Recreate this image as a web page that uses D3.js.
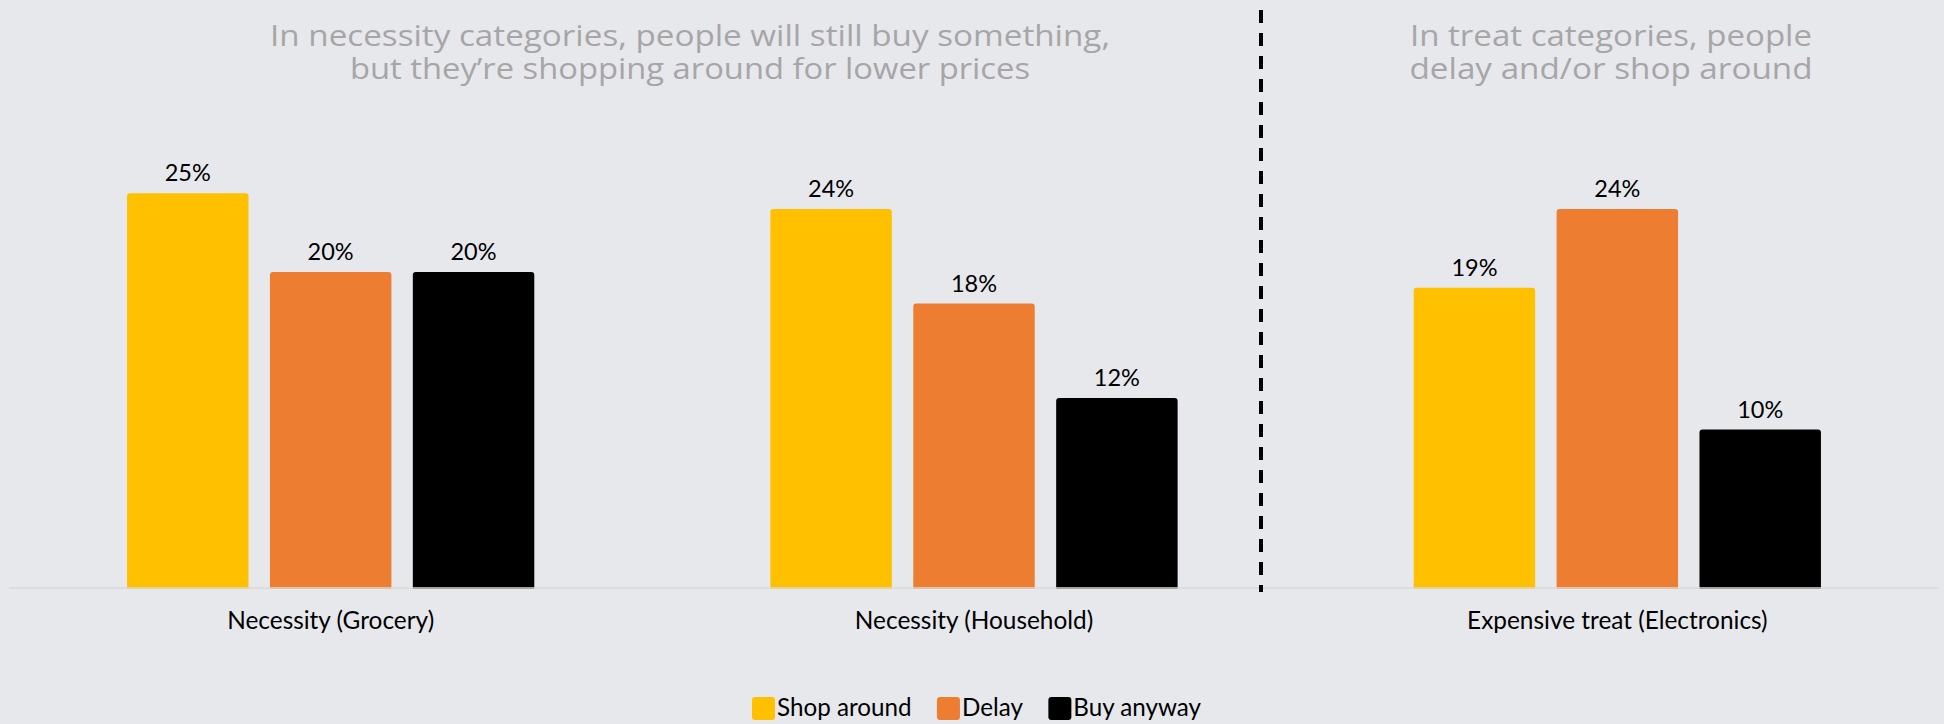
<!DOCTYPE html>
<html>
<head>
<meta charset="utf-8">
<script src="https://cdn.jsdelivr.net/npm/d3@7"></script>
<style>
  html, body { margin: 0; padding: 0; background: #e7e8ec; }
  svg { display: block; }
</style>
</head>
<body>
<svg id="chart" width="1944" height="724"></svg>
<script>
// Purchase behaviour by category type
const categories = ["Necessity (Grocery)", "Necessity (Household)", "Expensive treat (Electronics)"];
const seriesNames = ["Shop around", "Delay", "Buy anyway"];
const shopAround = [25, 24, 19];
const delay = [20, 18, 24];
const buyAnyway = [20, 12, 10];
const seriesColors = ["#ffc000", "#ed7d31", "#000000"];
const titleLeft = ["In necessity categories, people will still buy something,", "but they\u2019re shopping around for lower prices"];
const titleRight = ["In treat categories, people", "delay and/or shop around"];

const seriesValues = [shopAround, delay, buyAnyway];
const W = 1944, H = 724;
const baseY = 587;
const svg = d3.select("#chart");

svg.append("rect").attr("width", W).attr("height", H).attr("fill", "#e7e8ec");

const x0 = d3.scaleBand().domain(categories).range([9, 1939])
  .paddingInner(0.367).paddingOuter(0.1835);
const x1 = d3.scaleBand().domain(seriesNames).range([0, x0.bandwidth()])
  .paddingInner(0.15).paddingOuter(0);
const y = d3.scaleLinear().domain([0, 30]).range([baseY, baseY - 472.5]);
const color = d3.scaleOrdinal().domain(seriesNames).range(seriesColors);

const rows = categories.map((c, i) => ({
  cat: c,
  bars: seriesNames.map((s, j) => ({ series: s, value: seriesValues[j][i] }))
}));

// Bars with slightly rounded top corners
function barPath(x, yTop, w, yBot, r) {
  return `M${x},${yBot}V${yTop + r}Q${x},${yTop} ${x + r},${yTop}H${x + w - r}Q${x + w},${yTop} ${x + w},${yTop + r}V${yBot}Z`;
}

const groups = svg.append("g").selectAll("g").data(rows).join("g")
  .attr("transform", d => `translate(${x0(d.cat)},0)`);

groups.selectAll("path").data(d => d.bars).join("path")
  .attr("d", d => barPath(x1(d.series), y(d.value), x1.bandwidth(), baseY + 2, 3))
  .attr("fill", d => color(d.series));

groups.selectAll("text.val").data(d => d.bars).join("text")
  .attr("class", "val")
  .attr("x", d => x1(d.series) + x1.bandwidth() / 2)
  .attr("y", d => y(d.value) - 12)
  .attr("text-anchor", "middle")
  .attr("font-family", "Lato, 'Open Sans', sans-serif")
  .attr("font-size", 23.5)
  .attr("fill", "#000")
  .text(d => d.value + "%");

// Baseline
svg.append("line")
  .attr("x1", 9).attr("x2", 1939)
  .attr("y1", baseY + 1).attr("y2", baseY + 1)
  .attr("stroke", "#d9d9d9").attr("stroke-width", 2).attr("stroke-opacity", 0.75);

// Category axis labels
const xAxis = d3.axisBottom(x0).tickSize(0).tickPadding(0);
const axisG = svg.append("g").attr("transform", `translate(0,${baseY})`).call(xAxis);
axisG.select(".domain").remove();
axisG.selectAll("text")
  .attr("y", 0).attr("dy", 0)
  .attr("transform", "translate(0,41.5)")
  .attr("font-family", "Lato, 'Open Sans', sans-serif")
  .attr("font-size", 24.4)
  .attr("fill", "#000");

// Dashed divider between necessity and treat categories
svg.append("line")
  .attr("x1", 1261).attr("x2", 1261)
  .attr("y1", 10).attr("y2", 592)
  .attr("stroke", "#000").attr("stroke-width", 4)
  .attr("stroke-dasharray", "13 10");

// Section headings
function heading(lines, cx, widths) {
  const g = svg.append("g");
  lines.forEach((t, i) => {
    g.append("text")
      .attr("x", cx).attr("y", 46 + i * 33)
      .attr("text-anchor", "middle")
      .attr("font-family", "'Open Sans', Lato, sans-serif")
      .attr("font-size", 28.5)
      .attr("fill", "#a6a6a6")
      .attr("textLength", widths[i])
      .attr("lengthAdjust", "spacingAndGlyphs")
      .text(t);
  });
}
heading(titleLeft, 690, [840, 680]);
heading(titleRight, 1611, [402, 403]);

// Legend
const legend = svg.append("g");
let lx = 752;
seriesNames.forEach((s, i) => {
  legend.append("rect")
    .attr("x", lx).attr("y", 697).attr("width", 23).attr("height", 23)
    .attr("rx", 3).attr("fill", color(s));
  const t = legend.append("text")
    .attr("x", lx + 25).attr("y", 715.5)
    .attr("font-family", "Lato, 'Open Sans', sans-serif")
    .attr("font-size", 24.2)
    .attr("fill", "#000")
    .text(s);
  lx += 25 + t.node().getComputedTextLength() + 25.5;
});
</script>
</body>
</html>
